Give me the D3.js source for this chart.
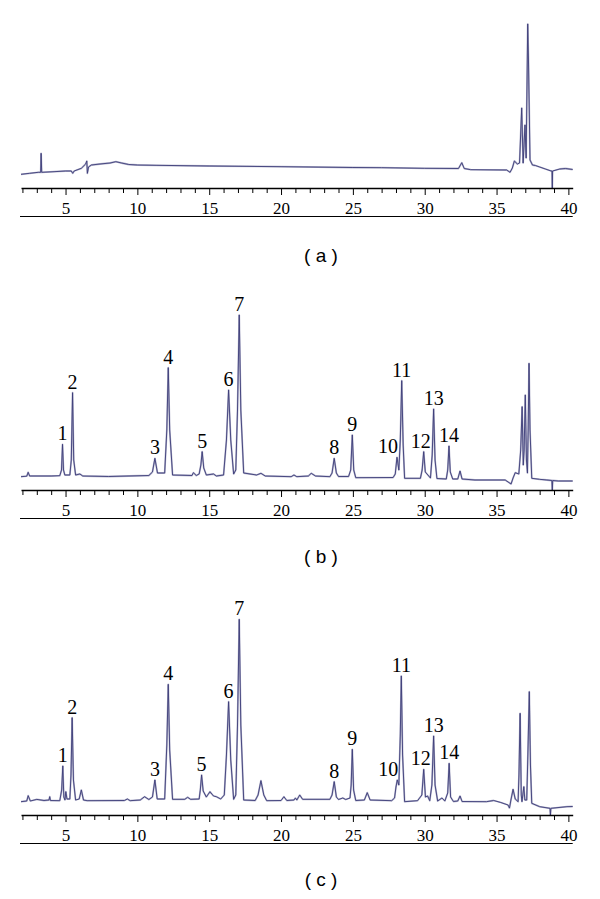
<!DOCTYPE html>
<html>
<head>
<meta charset="utf-8">
<script src="https://cdn.jsdelivr.net/npm/d3@7"></script>
<style>
  body { margin: 0; background: #fff; }
</style>
</head>
<body>
<div class="chart"></div>
<script>
var svgWidth = 600;
var svgHeight = 899;

var serif = "'Liberation Serif', 'DejaVu Serif', serif";
var sans = "'Liberation Sans', Arial, sans-serif";

// retention time (min), signal (a.u.)
var traceA = [
  [1.9,13.7],[2.5,14.7],[3.1,15.7],[3.27,15.7],[3.3,34.7],[3.34,15.7],[4.2,16.3],[5.0,17],[5.4,17],[5.5,14.7],
  [5.6,17],[6.1,19.7],[6.4,24],[6.48,27],[6.52,14.7],[6.6,21],[6.8,23],[7.4,24],[8.1,25],[8.5,26.3],[8.9,25],
  [9.4,23.5],[10,23],[11.3,22.7],[15,22],[20,21.3],[25,20.5],[27,20.3],[30,19.7],[32.35,19.5],[32.58,25.3],
  [32.75,19.5],[33.2,18.3],[35.7,18],[35.94,15.7],[36.1,20],[36.24,27],[36.45,24],[36.6,25],[36.75,80],
  [36.85,25],[36.98,63],[37.06,30],[37.17,164],[37.22,130],[37.33,28],[37.5,23],[37.7,22.5],[38,21],[38.4,19],
  [38.8,17],[38.86,17],[38.88,0],[38.9,17],[39.4,19],[39.8,19.5],[40.3,18.5]
];

var traceB = [
  [1.9,13.3],[2.3,13.8],[2.4,17.7],[2.5,14],[4.0,14],[4.6,14.3],[4.72,20],[4.79,45.7],[4.86,20],[4.95,15],
  [5.3,15],[5.4,30],[5.49,97.3],[5.57,30],[5.7,15],[6.0,16],[6.2,14],[8,13.5],[10.8,14.5],[11.05,18],
  [11.22,31.7],[11.4,17],[11.9,17],[12.05,60],[12.15,122.3],[12.25,60],[12.45,15],[13.8,14.5],[13.9,17.3],
  [14.1,14.5],[14.3,16],[14.42,25],[14.51,38.3],[14.62,22],[14.8,15],[15.3,16],[15.5,14],[16.0,15],[16.2,50],
  [16.35,100],[16.5,50],[16.7,16],[16.85,20],[16.97,80],[17.09,175],[17.2,80],[17.4,17],[18.3,15],[18.6,16.7],
  [18.9,14],[20.7,13.3],[20.9,15],[21.1,13.3],[21.9,14],[22.1,16.7],[22.4,14],[23.4,13.3],[23.55,17],
  [23.7,31.7],[23.85,17],[24.0,13.5],[24.7,13.5],[24.85,20],[24.96,55],[25.06,20],[25.2,12.3],[27.8,12.5],
  [27.95,16],[28.07,32.7],[28.2,20],[28.3,50],[28.4,109.3],[28.5,45],[28.6,11.7],[29.7,11.7],[29.82,20],
  [29.93,38.3],[30.04,18],[30.4,12],[30.52,35],[30.62,81],[30.72,30],[30.85,11.5],[31.5,11],[31.6,20],
  [31.69,44],[31.78,18],[31.95,11],[32.3,11],[32.46,19],[32.6,11],[33.5,10],[35.6,10],[36.01,6],[36.15,12],
  [36.3,17.3],[36.55,16],[36.68,40],[36.78,83.3],[36.86,25],[36.92,40],[37.0,95],[37.08,30],[37.15,17],
  [37.2,60],[37.26,126.7],[37.33,60],[37.45,11.7],[38.0,10.7],[38.5,10],[38.85,9.5],[38.88,0],[38.91,9.5],
  [39.3,9],[40.3,9]
];

var traceC = [
  [1.9,13.3],[2.3,14],[2.4,19.3],[2.55,14],[3.0,15.6],[3.5,14.5],[3.85,15],[3.9,18.3],[3.95,14.5],[4.6,14.3],
  [4.73,25],[4.81,49],[4.88,18],[4.96,15],[5.02,23.3],[5.1,16],[5.3,16],[5.38,40],[5.46,97.3],[5.55,35],
  [5.7,15],[5.95,16],[6.1,25],[6.25,15],[6.5,14.3],[9.1,14.5],[9.3,16],[9.5,14.3],[10.2,15],[10.5,18.3],
  [10.8,15.5],[11.05,18],[11.22,35],[11.38,16],[11.9,16],[12.05,70],[12.15,130.7],[12.25,65],[12.45,15.7],
  [13.3,15.7],[13.5,17.7],[13.7,15.7],[14.3,16],[14.38,25],[14.47,40],[14.58,24],[14.8,18],[15.05,23.3],
  [15.3,19],[15.5,18.3],[15.8,16],[16.05,20],[16.2,60],[16.35,113.3],[16.5,55],[16.7,15.7],[16.85,20],
  [16.97,90],[17.09,195.7],[17.2,90],[17.4,15],[18.2,14.5],[18.4,20],[18.6,34.3],[18.8,20],[19.0,14.3],
  [20.0,14.5],[20.2,18.3],[20.4,14.5],[20.9,15],[21.0,17],[21.1,15],[21.3,20],[21.5,15.7],[23.4,15.7],
  [23.55,20],[23.7,33.3],[23.85,18],[24.0,15.5],[24.3,17],[24.5,15.5],[24.8,17],[24.88,30],[24.96,65.7],
  [25.05,25],[25.2,14.5],[25.8,15],[26.0,22.3],[26.2,15],[27.7,14.3],[27.9,17],[28.0,28],[28.09,35],
  [28.2,30],[28.3,80],[28.37,139],[28.46,60],[28.6,13.3],[29.5,14.3],[29.8,20],[29.93,45.7],[30.05,18],
  [30.2,19],[30.35,14.3],[30.5,30],[30.62,79],[30.72,30],[30.9,14],[31.2,17],[31.4,14],[31.6,22],[31.7,51.7],
  [31.8,18],[32.0,13.5],[32.3,14],[32.46,19],[32.6,13.5],[34.3,13.3],[34.8,14.5],[35.3,12.5],[35.8,10],
  [35.9,7],[36.0,15],[36.15,25.7],[36.3,16],[36.5,13.3],[36.56,40],[36.64,101.7],[36.72,20],[36.77,13.3],
  [36.9,28.3],[36.97,15],[37.1,15],[37.18,60],[37.28,123.3],[37.36,50],[37.45,11.7],[38.0,8.3],[38.72,6.7],
  [38.75,0],[38.78,6.7],[39.9,8.3],[40.3,8.5]
];

// peak numbers and their retention times
var peakNames = ["1","2","3","4","5","6","7","8","9","10","11","12","13","14"];
var peakTimesB = [4.79,5.49,11.22,12.15,14.51,16.35,17.09,23.7,24.96,28.07,28.4,29.93,30.62,31.69];
var peakTimesC = [4.81,5.46,11.22,12.15,14.47,16.35,17.09,23.7,24.96,28.09,28.37,29.93,30.62,31.7];

var tickValues = d3.range(2, 41);
var captions = ["( a )", "( b )", "( c )"];

var panels = [
  { trace: traceA, times: null, axisY: 188, captionY: 262 },
  { trace: traceB, times: peakTimesB, axisY: 490, captionY: 563 },
  { trace: traceC, times: peakTimesC, axisY: 815, captionY: 886 }
];

var svg = d3
  .select(".chart")
  .append("svg")
  .attr("width", svgWidth)
  .attr("height", svgHeight);

var xScale = d3.scaleLinear().domain([1.9, 40.3]).range([21, 572.7]);

// nudges for crowded labels
var labelDx = { "10": -9, "12": -3 };

panels.forEach(function(p, i) {
  var yScale = d3.scaleLinear().domain([0, 200]).range([p.axisY, p.axisY - 200]);
  var g = svg.append("g");

  var line = d3.line()
    .x(function(d) { return xScale(d[0]); })
    .y(function(d) { return yScale(d[1]); });

  g.append("path")
    .datum(p.trace)
    .attr("fill", "none")
    .attr("stroke", "#b4b4cc")
    .attr("stroke-width", 1.8)
    .attr("stroke-linejoin", "round")
    .attr("d", line);

  g.append("path")
    .datum(p.trace)
    .attr("fill", "none")
    .attr("stroke", "#3c3c78")
    .attr("stroke-width", 0.9)
    .attr("stroke-linejoin", "round")
    .attr("d", line);

  var axis = d3.axisBottom(xScale)
    .tickValues(tickValues)
    .tickSizeOuter(0)
    .tickFormat(function(d) { return d % 5 === 0 ? d : ""; });

  var ax = g.append("g")
    .attr("transform", "translate(0," + p.axisY + ")")
    .call(axis);

  ax.select(".domain").attr("stroke", "#000").attr("stroke-width", 1.6);
  ax.selectAll(".tick line")
    .attr("stroke", "#000")
    .attr("y2", function(d) { return d % 5 === 0 ? 7 : 5; });
  ax.selectAll(".tick text")
    .attr("y", 26)
    .attr("dy", 0)
    .attr("fill", "#000")
    .style("font-family", serif)
    .style("font-size", "17px");

  g.append("line")
    .attr("x1", 20)
    .attr("x2", 572.7)
    .attr("y1", p.axisY + 28.5)
    .attr("y2", p.axisY + 28.5)
    .attr("stroke", "#000")
    .attr("stroke-width", 1.2);

  if (p.times) {
    var peaks = p.times.map(function(t, k) {
      var pt = p.trace.find(function(d) { return d[0] === t; });
      return { name: peakNames[k], t: t, v: pt[1] };
    });
    g.selectAll(".peak-label")
      .data(peaks)
      .enter()
      .append("text")
      .attr("class", "peak-label")
      .attr("text-anchor", "middle")
      .attr("x", function(d) { return xScale(d.t) + (labelDx[d.name] || 0); })
      .attr("y", function(d) { return yScale(d.v) - 4; })
      .style("font-family", serif)
      .style("font-size", "20px")
      .text(function(d) { return d.name; });
  }

  svg.append("text")
    .attr("text-anchor", "middle")
    .attr("x", 321)
    .attr("y", p.captionY)
    .style("font-family", sans)
    .style("font-size", "19px")
    .text(captions[i]);
});
</script>
</body>
</html>
